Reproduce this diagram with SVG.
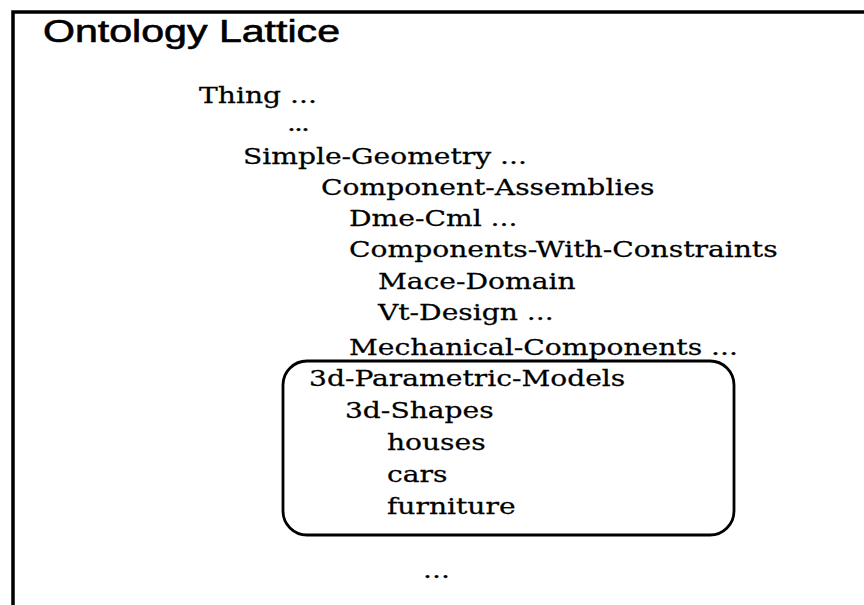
<svg xmlns="http://www.w3.org/2000/svg" width="864" height="605" viewBox="0 0 864 605">
  <style>
    .frame { fill: none; stroke: #000; stroke-width: 3.5; }
    .title { font-family: "Liberation Sans", Arial, sans-serif; font-size: 31px; fill: #000; stroke: #000; stroke-width: 0.6; }
    .item { font-family: "DejaVu Serif", "Liberation Serif", serif; font-size: 22px; fill: #000; stroke: #000; stroke-width: 0.25; }
    .dots { letter-spacing: -1.5px; }
    .group-box { fill: none; stroke: #000; stroke-width: 2.8; }
  </style>
  <rect width="864" height="605" fill="#fff"/>

  <!-- open frame: top rule and left rule -->
  <path class="frame" d="M13,605 V12 H864"/>

  <text id="title" class="title" x="43" y="42" textLength="297" lengthAdjust="spacingAndGlyphs">Ontology Lattice</text>

  <!-- highlighted branch -->
  <g id="box-3d-models">
    <rect class="group-box" x="283" y="361" width="451" height="174" rx="24" ry="24"/>
  </g>

  <!-- lattice entries; the wide lettering is a horizontal stretch of 1.28 -->
  <g transform="scale(1.28 1)">
    <g id="n-thing"><text class="item" x="155.5" y="103">Thing ...</text></g>
    <g id="n-ellipsis-1"><text class="item dots" x="224.2" y="131">...</text></g>
    <g id="n-simple-geometry"><text class="item" x="189.8" y="164">Simple-Geometry ...</text></g>
    <g id="n-component-assemblies"><text class="item" x="250.8" y="195">Component-Assemblies</text></g>
    <g id="n-dme-cml"><text class="item" x="272.7" y="226">Dme-Cml ...</text></g>
    <g id="n-components-with-constraints"><text class="item" x="272.7" y="257">Components-With-Constraints</text></g>
    <g id="n-mace-domain"><text class="item" x="295.3" y="289">Mace-Domain</text></g>
    <g id="n-vt-design"><text class="item" x="295.3" y="320">Vt-Design ...</text></g>
    <g id="n-mechanical-components"><text class="item" x="272.7" y="355">Mechanical-Components ...</text></g>
    <g id="n-3d-parametric-models"><text class="item" x="241.4" y="386">3d-Parametric-Models</text></g>
    <g id="n-3d-shapes"><text class="item" x="269.5" y="418">3d-Shapes</text></g>
    <g id="n-houses"><text class="item" x="302.3" y="450">houses</text></g>
    <g id="n-cars"><text class="item" x="302.3" y="482">cars</text></g>
    <g id="n-furniture"><text class="item" x="302.3" y="514">furniture</text></g>
    <g id="n-ellipsis-2"><text class="item" x="330.5" y="578">...</text></g>
  </g>
</svg>
